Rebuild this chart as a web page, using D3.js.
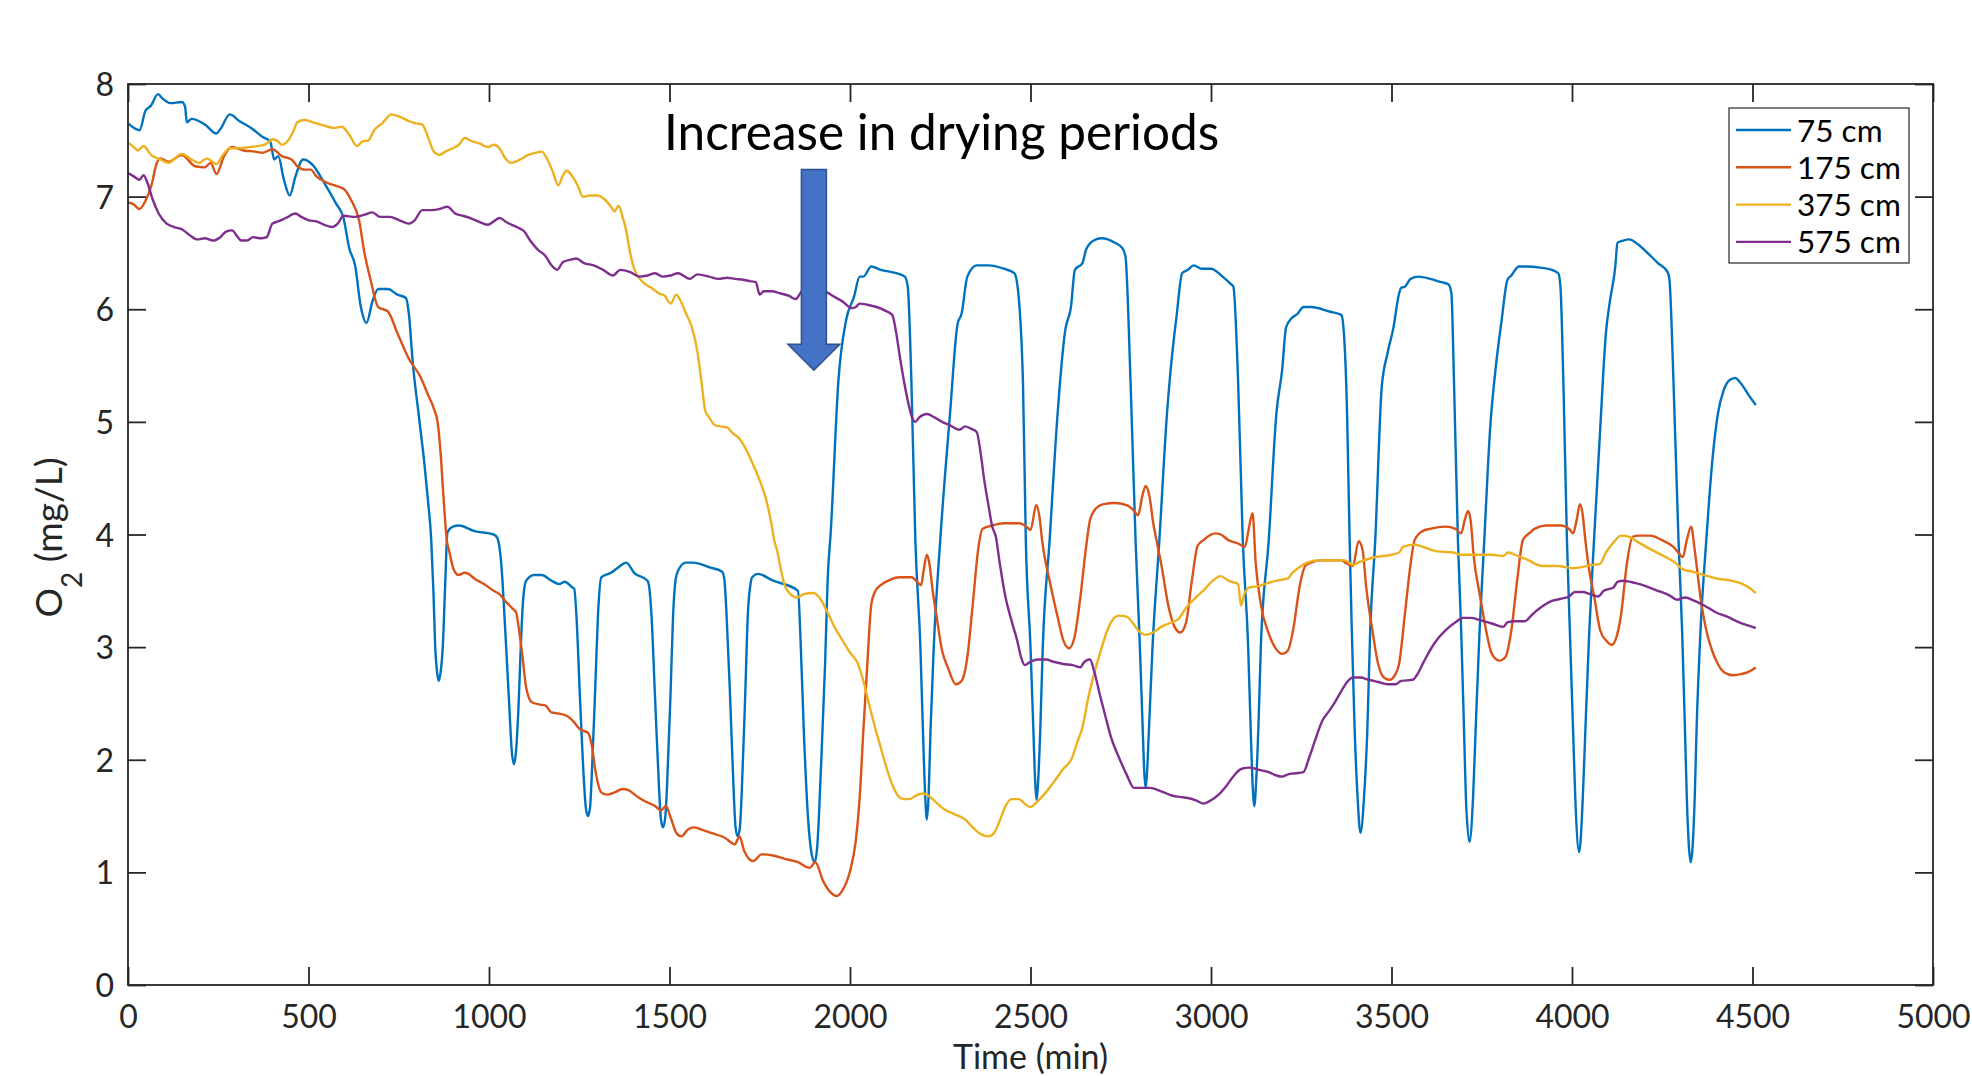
<!DOCTYPE html>
<html><head><meta charset="utf-8">
<script src="https://cdn.jsdelivr.net/npm/d3@7"></script>
<style>
body{margin:0;background:#fff;}
svg{display:block;}
text{font-family:Lato,"Open Sans",sans-serif;}
</style>
</head><body>
<svg id="chart" width="1972" height="1076"></svg>
<script>
// ---------------- data ----------------
const seriesNames = ["75 cm","175 cm","375 cm","575 cm"];
const seriesColors = ["#0072BD","#D95319","#EDB120","#7E2F8E"];
const xTicks = [0,500,1000,1500,2000,2500,3000,3500,4000,4500,5000];
const yTicks = [0,1,2,3,4,5,6,7,8];
const xLabel = "Time (min)";
const annotationText = "Increase in drying periods";
const annotationPos = [1485, 7.41];          // [time, O2] of text start
const arrowPos = {t:1900, top:7.24, shoulder:5.69, tip:5.46};

// [time (min), O2 (mg/L)]
const o2_75 = [[0,7.65],[32,7.59],[48,7.76],[64,7.81],[83,7.91],[96,7.87],[117,7.83],[149,7.84],[158,7.80],[163,7.66],[176,7.69],[213,7.64],[245,7.56],[256,7.60],[282,7.73],[309,7.67],[341,7.61],[373,7.53],[394,7.49],[405,7.33],[416,7.36],[432,7.15],[448,7.01],[464,7.18],[485,7.33],[512,7.28],[544,7.12],[576,6.94],[597,6.81],[613,6.54],[629,6.39],[645,6.02],[661,5.88],[677,6.07],[693,6.18],[720,6.18],[746,6.13],[770,6.10],[778,5.96],[789,5.52],[805,5.07],[821,4.63],[831,4.30],[840,3.95],[846,3.5],[851,3.0],[856,2.78],[861,2.70],[866,2.78],[872,3.0],[878,3.5],[885,4.02],[900,4.07],[917,4.08],[960,4.03],[1013,4.00],[1023,3.97],
[1034,3.74],[1045,3.15],[1056,2.49],[1063,2.08],[1069,1.96],[1075,2.08],[1082,2.49],[1088,3.0],[1095,3.44],[1103,3.59],[1125,3.64],[1146,3.64],[1173,3.59],[1194,3.56],[1210,3.58],[1231,3.53],
[1236,3.52],[1242,3.29],[1252,2.55],[1263,1.81],[1268,1.58],[1274,1.50],[1280,1.58],[1284,1.81],[1295,2.70],[1302,3.29],[1311,3.62],[1338,3.66],[1359,3.71],[1380,3.75],[1402,3.66],[1439,3.59],
[1443,3.55],[1450,3.29],[1460,2.55],[1471,1.75],[1476,1.48],[1482,1.40],[1488,1.48],[1493,1.75],[1503,2.60],[1510,3.29],[1517,3.60],[1524,3.68],[1545,3.75],[1566,3.75],[1609,3.71],[1646,3.67],
[1652,3.60],[1658,3.29],[1668,2.55],[1678,1.70],[1683,1.40],[1689,1.32],[1695,1.40],[1700,1.70],[1710,2.60],[1717,3.29],[1724,3.55],[1729,3.62],[1745,3.65],[1787,3.59],[1856,3.50],
[1862,3.15],[1872,2.26],[1883,1.52],[1894,1.16],[1902,1.09],[1909,1.22],[1920,1.96],[1931,2.85],[1938,3.59],[1947,4.04],[1968,5.37],[1989,5.90],[2011,6.11],[2027,6.29],[2037,6.29],[2059,6.38],[2085,6.35],[2128,6.32],[2152,6.29],[2160,6.20],[2170,5.37],[2181,3.95],
[2195,3.0],[2202,2.26],[2208,1.7],[2213,1.47],[2218,1.7],[2223,2.26],[2232,3.0],[2250,3.95],[2277,5.07],[2298,5.87],[2309,5.96],[2325,6.29],[2351,6.39],[2383,6.39],[2426,6.36],[2455,6.32],[2463,6.23],[2479,5.37],[2487,3.95],
[2500,3.0],[2508,2.26],[2513,1.8],[2517,1.64],[2521,1.8],[2527,2.26],[2534,3.0],[2553,3.95],[2575,5.07],[2596,5.81],[2612,6.02],[2623,6.35],[2644,6.41],[2654,6.53],[2675,6.61],[2697,6.63],[2734,6.59],[2755,6.54],[2763,6.47],[2777,5.37],[2791,3.95],
[2803,3.0],[2811,2.26],[2815,1.9],[2819,1.75],[2823,1.9],[2828,2.26],[2838,3.0],[2857,3.95],[2878,5.07],[2899,5.79],[2904,5.92],[2920,6.32],[2936,6.35],[2952,6.39],[2974,6.36],[3000,6.36],[3032,6.29],[3053,6.23],[3062,6.20],[3075,5.37],[3088,3.95],
[3103,3.0],[3110,2.26],[3115,1.8],[3120,1.59],[3125,1.8],[3131,2.26],[3138,3.0],[3160,3.95],[3181,5.07],[3197,5.46],[3208,5.84],[3223,5.92],[3240,5.96],[3256,6.02],[3277,6.02],[3328,5.98],[3361,5.95],[3366,5.87],[3377,5.07],[3384,3.95],
[3390,3.15],[3398,2.26],[3406,1.67],[3414,1.35],[3424,1.67],[3433,2.26],[3441,3.15],[3455,3.95],[3473,5.31],[3489,5.61],[3505,5.83],[3521,6.14],[3527,6.19],[3537,6.20],[3553,6.27],[3575,6.29],[3607,6.27],[3639,6.24],[3658,6.22],[3666,6.14],[3673,5.37],[3684,3.95],
[3693,3.15],[3701,2.26],[3706,1.67],[3716,1.27],[3726,1.67],[3733,2.26],[3744,3.15],[3757,3.95],[3773,4.93],[3789,5.49],[3805,5.90],[3821,6.26],[3832,6.30],[3853,6.38],[3874,6.38],[3912,6.37],[3944,6.35],[3962,6.32],[3968,6.20],[3976,5.37],[3986,3.95],
[3994,3.15],[4003,2.26],[4009,1.67],[4020,1.18],[4030,1.67],[4037,2.26],[4048,3.15],[4061,3.95],[4078,4.93],[4094,5.79],[4104,6.05],[4120,6.38],[4126,6.59],[4142,6.61],[4158,6.62],[4185,6.57],[4206,6.51],[4238,6.41],[4265,6.33],[4270,6.26],[4281,5.37],[4295,3.95],
[4305,3.15],[4313,2.26],[4318,1.67],[4329,1.09],[4340,1.67],[4345,2.26],[4356,3.15],[4372,3.95],[4388,4.63],[4404,5.07],[4420,5.28],[4436,5.37],[4452,5.39],[4468,5.34],[4489,5.24],[4509,5.15]];

const o2_175 = [[0,6.95],[16,6.93],[32,6.89],[48,6.96],[64,7.09],[80,7.30],[90,7.34],[112,7.31],[149,7.37],[186,7.27],[213,7.26],[229,7.30],[245,7.20],[266,7.36],[288,7.44],[320,7.41],[352,7.40],[373,7.39],[400,7.42],[426,7.36],[453,7.33],[469,7.27],[490,7.24],[506,7.24],[522,7.18],[554,7.12],[581,7.09],[597,7.07],[618,6.97],[640,6.79],[655,6.50],[672,6.26],[693,6.02],[720,5.98],[746,5.79],[778,5.56],[810,5.40],[831,5.24],[847,5.12],[858,4.99],[866,4.72],[874,4.33],[883,3.95],[890,3.85],[901,3.70],[915,3.64],[933,3.66],[943,3.65],[959,3.61],[986,3.56],[1013,3.50],[1029,3.47],[1045,3.41],[1066,3.34],[1075,3.31],[1082,3.18],[1093,2.91],[1103,2.64],[1119,2.51],[1141,2.49],[1157,2.48],[1173,2.42],[1194,2.41],[1215,2.39],[1231,2.35],[1252,2.27],[1274,2.24],[1284,2.14],[1295,1.90],[1311,1.71],[1327,1.69],[1348,1.71],[1370,1.74],[1386,1.73],[1412,1.67],[1439,1.62],[1460,1.59],[1476,1.55],[1490,1.59],[1503,1.49],[1519,1.35],[1533,1.32],[1551,1.38],[1567,1.40],[1588,1.38],[1615,1.35],[1652,1.31],[1681,1.25],[1694,1.32],[1707,1.19],[1732,1.10],[1755,1.16],[1787,1.15],[1819,1.12],[1856,1.09],[1888,1.04],[1904,1.09],[1926,0.92],[1947,0.82],[1963,0.79],[1979,0.84],[2000,1.01],[2016,1.28],[2027,1.67],[2037,2.26],[2048,2.85],[2059,3.38],[2069,3.49],[2085,3.55],[2106,3.59],[2138,3.62],[2170,3.62],[2192,3.56],[2197,3.55],[2204,3.68],[2213,3.82],[2220,3.74],[2229,3.50],[2239,3.29],[2255,2.97],[2271,2.82],[2293,2.67],[2309,2.70],[2325,2.91],[2340,3.38],[2356,3.89],[2367,4.05],[2394,4.08],[2426,4.10],[2468,4.10],[2489,4.07],[2500,4.04],[2516,4.26],[2526,4.13],[2532,3.95],[2553,3.59],[2575,3.27],[2591,3.06],[2607,2.99],[2622,3.09],[2638,3.44],[2654,3.89],[2665,4.13],[2681,4.23],[2702,4.27],[2734,4.28],[2766,4.26],[2787,4.21],[2798,4.17],[2809,4.33],[2819,4.43],[2830,4.33],[2840,4.10],[2849,3.95],[2862,3.74],[2883,3.35],[2899,3.18],[2915,3.13],[2931,3.22],[2947,3.59],[2963,3.90],[2979,3.95],[3011,4.01],[3027,4.00],[3048,3.95],[3075,3.92],[3094,3.89],[3104,4.04],[3115,4.19],[3124,3.74],[3138,3.38],[3160,3.12],[3181,2.98],[3197,2.94],[3213,2.97],[3229,3.18],[3245,3.53],[3261,3.72],[3277,3.75],[3303,3.77],[3329,3.77],[3361,3.77],[3377,3.74],[3393,3.72],[3409,3.94],[3420,3.86],[3430,3.53],[3447,3.15],[3463,2.85],[3479,2.73],[3495,2.71],[3511,2.76],[3521,2.85],[3537,3.29],[3553,3.74],[3564,3.95],[3586,4.03],[3607,4.05],[3650,4.07],[3677,4.05],[3693,4.01],[3703,4.13],[3712,4.21],[3719,4.13],[3728,3.80],[3746,3.44],[3762,3.15],[3778,2.94],[3799,2.88],[3815,2.91],[3832,3.15],[3848,3.59],[3864,3.95],[3885,4.02],[3896,4.05],[3928,4.08],[3971,4.08],[3992,4.05],[4003,4.01],[4013,4.13],[4022,4.27],[4029,4.19],[4037,3.95],[4045,3.74],[4062,3.44],[4078,3.15],[4094,3.06],[4110,3.02],[4120,3.06],[4136,3.29],[4152,3.74],[4168,3.98],[4184,3.99],[4217,3.99],[4249,3.95],[4281,3.89],[4297,3.83],[4307,3.80],[4318,3.95],[4330,4.07],[4340,3.86],[4356,3.44],[4372,3.15],[4388,2.97],[4404,2.85],[4420,2.78],[4447,2.75],[4468,2.76],[4489,2.78],[4509,2.82]];

const o2_375 = [[0,7.48],[16,7.44],[27,7.41],[43,7.45],[64,7.37],[90,7.33],[112,7.30],[149,7.38],[176,7.33],[197,7.30],[218,7.34],[245,7.29],[261,7.36],[282,7.43],[309,7.43],[336,7.44],[362,7.45],[384,7.47],[400,7.51],[416,7.49],[426,7.46],[448,7.52],[458,7.58],[469,7.66],[490,7.68],[512,7.66],[544,7.63],[570,7.61],[592,7.62],[613,7.55],[634,7.45],[650,7.49],[666,7.50],[682,7.59],[704,7.65],[730,7.73],[752,7.71],[778,7.67],[799,7.65],[815,7.64],[831,7.53],[847,7.40],[863,7.37],[879,7.40],[900,7.43],[916,7.46],[933,7.52],[954,7.49],[975,7.47],[997,7.44],[1013,7.46],[1029,7.43],[1045,7.34],[1061,7.30],[1087,7.33],[1109,7.37],[1130,7.39],[1146,7.40],[1162,7.33],[1178,7.21],[1192,7.10],[1205,7.19],[1215,7.23],[1231,7.18],[1247,7.09],[1260,7.00],[1279,7.01],[1301,7.01],[1322,6.97],[1338,6.91],[1348,6.87],[1359,6.92],[1370,6.82],[1380,6.70],[1391,6.50],[1402,6.36],[1418,6.27],[1434,6.22],[1450,6.19],[1471,6.14],[1487,6.12],[1503,6.05],[1519,6.13],[1530,6.08],[1546,5.96],[1562,5.84],[1578,5.61],[1588,5.37],[1599,5.10],[1610,5.04],[1626,4.97],[1642,4.96],[1660,4.95],[1675,4.90],[1691,4.86],[1713,4.75],[1729,4.64],[1750,4.48],[1766,4.33],[1782,4.10],[1790,3.95],[1798,3.86],[1809,3.68],[1819,3.55],[1835,3.47],[1854,3.44],[1872,3.47],[1899,3.48],[1915,3.44],[1936,3.32],[1957,3.18],[1979,3.06],[2000,2.95],[2021,2.86],[2037,2.70],[2053,2.49],[2069,2.29],[2085,2.11],[2101,1.93],[2117,1.78],[2133,1.68],[2149,1.65],[2165,1.65],[2181,1.68],[2202,1.70],[2218,1.68],[2239,1.62],[2261,1.56],[2287,1.52],[2319,1.47],[2340,1.40],[2362,1.34],[2383,1.32],[2399,1.35],[2415,1.46],[2431,1.59],[2447,1.65],[2468,1.65],[2484,1.61],[2500,1.58],[2516,1.62],[2537,1.69],[2564,1.80],[2591,1.92],[2614,2.01],[2628,2.14],[2644,2.29],[2660,2.55],[2676,2.76],[2692,2.94],[2713,3.15],[2729,3.25],[2745,3.28],[2766,3.27],[2782,3.22],[2798,3.15],[2819,3.11],[2840,3.13],[2862,3.18],[2883,3.21],[2910,3.25],[2931,3.35],[2958,3.44],[2984,3.52],[3005,3.59],[3027,3.63],[3048,3.59],[3075,3.56],[3083,3.37],[3091,3.46],[3107,3.53],[3128,3.54],[3149,3.56],[3181,3.59],[3213,3.61],[3223,3.65],[3245,3.71],[3266,3.75],[3298,3.77],[3329,3.77],[3372,3.77],[3393,3.73],[3414,3.76],[3457,3.80],[3500,3.82],[3521,3.84],[3532,3.89],[3564,3.91],[3596,3.88],[3628,3.85],[3671,3.84],[3693,3.82],[3735,3.82],[3778,3.82],[3810,3.81],[3823,3.84],[3842,3.82],[3874,3.78],[3917,3.72],[3960,3.72],[4003,3.70],[4024,3.71],[4056,3.73],[4078,3.74],[4094,3.84],[4115,3.93],[4136,3.99],[4158,3.98],[4184,3.93],[4217,3.87],[4259,3.80],[4286,3.75],[4307,3.69],[4334,3.67],[4366,3.64],[4398,3.61],[4441,3.59],[4473,3.56],[4494,3.52],[4509,3.48]];

const o2_575 = [[0,7.21],[16,7.18],[32,7.15],[43,7.19],[53,7.13],[69,6.97],[85,6.85],[107,6.76],[128,6.73],[149,6.71],[170,6.66],[192,6.62],[213,6.63],[235,6.61],[256,6.64],[272,6.69],[288,6.70],[304,6.64],[314,6.61],[330,6.61],[346,6.64],[368,6.63],[384,6.64],[400,6.76],[416,6.78],[437,6.81],[464,6.85],[480,6.82],[501,6.79],[522,6.78],[544,6.75],[565,6.73],[581,6.76],[597,6.83],[629,6.82],[656,6.84],[677,6.86],[698,6.82],[725,6.82],[752,6.79],[778,6.76],[794,6.79],[815,6.88],[842,6.88],[863,6.89],[885,6.91],[906,6.85],[927,6.83],[948,6.81],[970,6.78],[997,6.75],[1013,6.78],[1029,6.81],[1050,6.77],[1077,6.73],[1098,6.69],[1114,6.61],[1135,6.53],[1157,6.47],[1173,6.39],[1189,6.35],[1205,6.42],[1226,6.44],[1242,6.45],[1263,6.41],[1290,6.39],[1316,6.35],[1343,6.30],[1364,6.35],[1391,6.33],[1418,6.29],[1439,6.30],[1460,6.32],[1482,6.29],[1503,6.30],[1524,6.32],[1556,6.27],[1577,6.31],[1610,6.29],[1636,6.27],[1660,6.28],[1681,6.27],[1707,6.26],[1723,6.25],[1739,6.24],[1750,6.13],[1761,6.16],[1782,6.16],[1808,6.14],[1830,6.12],[1849,6.09],[1862,6.14],[1878,6.20],[1900,6.18],[1936,6.15],[1957,6.11],[1979,6.07],[2005,6.01],[2016,6.02],[2027,6.05],[2048,6.04],[2074,6.02],[2096,5.99],[2117,5.95],[2128,5.79],[2138,5.58],[2149,5.37],[2160,5.19],[2172,5.04],[2181,5.00],[2192,5.04],[2213,5.07],[2234,5.04],[2255,5.00],[2277,4.97],[2303,4.93],[2319,4.96],[2335,4.94],[2351,4.91],[2362,4.72],[2372,4.48],[2383,4.27],[2394,4.07],[2404,3.98],[2415,3.74],[2431,3.44],[2447,3.24],[2463,3.06],[2474,2.91],[2484,2.84],[2500,2.87],[2521,2.89],[2543,2.89],[2564,2.87],[2591,2.85],[2617,2.84],[2638,2.82],[2647,2.86],[2654,2.88],[2665,2.89],[2676,2.79],[2692,2.58],[2708,2.38],[2723,2.20],[2745,2.02],[2766,1.87],[2787,1.75],[2809,1.75],[2830,1.75],[2862,1.72],[2894,1.68],[2915,1.67],[2936,1.66],[2958,1.64],[2979,1.61],[3000,1.64],[3021,1.69],[3043,1.77],[3064,1.86],[3085,1.92],[3107,1.93],[3133,1.91],[3160,1.89],[3181,1.86],[3197,1.85],[3213,1.87],[3234,1.88],[3256,1.89],[3272,2.02],[3288,2.17],[3309,2.35],[3329,2.44],[3345,2.52],[3361,2.61],[3377,2.69],[3393,2.73],[3414,2.73],[3436,2.71],[3463,2.69],[3489,2.67],[3511,2.67],[3527,2.70],[3559,2.71],[3570,2.75],[3591,2.88],[3618,3.03],[3650,3.15],[3677,3.22],[3698,3.26],[3719,3.26],[3746,3.24],[3778,3.21],[3810,3.18],[3821,3.22],[3842,3.23],[3869,3.23],[3890,3.29],[3917,3.36],[3944,3.41],[3971,3.43],[3992,3.45],[4008,3.49],[4029,3.49],[4051,3.47],[4072,3.45],[4088,3.50],[4115,3.53],[4126,3.58],[4142,3.59],[4174,3.57],[4206,3.54],[4238,3.50],[4270,3.46],[4291,3.42],[4313,3.44],[4340,3.41],[4366,3.37],[4398,3.31],[4430,3.27],[4463,3.22],[4489,3.19],[4509,3.17]];

const seriesData = [o2_75, o2_175, o2_375, o2_575];

// ---------------- chart ----------------
const W = 1972, H = 1076;
const plot = {left:128, right:1933, top:84, bottom:985};
const axisColor = "#262626";
const svg = d3.select("#chart");

const x = d3.scaleLinear().domain([0,5000]).range([plot.left, plot.right]);
const y = d3.scaleLinear().domain([0,8]).range([plot.bottom, plot.top]);

svg.append("rect").attr("width",W).attr("height",H).attr("fill","#fff");

function styleAxis(g){
  g.attr("font-family", null).attr("font-size", null);
  g.select(".domain").remove();
  g.selectAll(".tick line").attr("stroke", axisColor).attr("stroke-width", 1.8);
  g.selectAll(".tick text").attr("fill", axisColor).style("font-size","32px");
}

// bottom axis with labels
svg.append("g").attr("transform",`translate(0,${plot.bottom})`)
  .call(d3.axisBottom(x).tickValues(xTicks).tickSizeInner(-18).tickSizeOuter(0).tickFormat(d3.format("d")))
  .call(styleAxis)
  .call(g => g.selectAll(".tick text").attr("y", 43).attr("dy", null));
// top axis ticks
svg.append("g").attr("transform",`translate(0,${plot.top})`)
  .call(d3.axisTop(x).tickValues(xTicks).tickSizeInner(-18).tickSizeOuter(0).tickFormat(""))
  .call(styleAxis);
// left axis with labels
svg.append("g").attr("transform",`translate(${plot.left},0)`)
  .call(d3.axisLeft(y).tickValues(yTicks).tickSizeInner(-18).tickSizeOuter(0).tickPadding(14).tickFormat(d3.format("d")))
  .call(styleAxis)
  .call(g => g.selectAll(".tick text").attr("x", -14).attr("dy","0.36em"));
// right axis ticks
svg.append("g").attr("transform",`translate(${plot.right},0)`)
  .call(d3.axisRight(y).tickValues(yTicks).tickSizeInner(-18).tickSizeOuter(0).tickFormat(""))
  .call(styleAxis);

// lines
const line = d3.line().x(d => x(d[0])).y(d => y(d[1])).curve(d3.curveMonotoneX);
seriesData.forEach((s,i) => {
  svg.append("path").datum(s)
    .attr("fill","none").attr("stroke",seriesColors[i])
    .attr("stroke-width",2.4).attr("stroke-linejoin","round")
    .attr("d", line);
});

// box
svg.append("rect").attr("x",plot.left).attr("y",plot.top)
  .attr("width",plot.right-plot.left).attr("height",plot.bottom-plot.top)
  .attr("fill","none").attr("stroke",axisColor).attr("stroke-width",1.8);

// axis labels
svg.append("text").attr("x",(plot.left+plot.right)/2).attr("y",1069)
  .attr("text-anchor","middle").style("font-size","34px").attr("fill",axisColor)
  .text(xLabel);
const yl = svg.append("text")
  .attr("transform",`translate(62,${(plot.top+plot.bottom)/2 + 3}) rotate(-90)`)
  .attr("text-anchor","middle").style("font-size","37px").attr("fill",axisColor);
yl.append("tspan").text("O");
yl.append("tspan").attr("dy",20).style("font-size","28px").text("2");
yl.append("tspan").attr("dy",-20).text(" (mg/L)");

// annotation
svg.append("text").attr("x",x(annotationPos[0])).attr("y",y(annotationPos[1]))
  .style("font-size","49.5px").attr("fill","#000").text(annotationText);

const ax = x(arrowPos.t), shaftHW = 12.5, headHW = 26;
const arrowPts = [
  [ax-shaftHW, y(arrowPos.top)], [ax+shaftHW, y(arrowPos.top)],
  [ax+shaftHW, y(arrowPos.shoulder)], [ax+headHW, y(arrowPos.shoulder)],
  [ax, y(arrowPos.tip)],
  [ax-headHW, y(arrowPos.shoulder)], [ax-shaftHW, y(arrowPos.shoulder)]
];
svg.append("polygon").attr("points", arrowPts.map(p=>p.join(",")).join(" "))
  .attr("fill","#4472C4").attr("stroke","#2F528F").attr("stroke-width",1.5);

// legend
const lg = svg.append("g");
lg.append("rect").attr("x",1729).attr("y",108).attr("width",180).attr("height",155)
  .attr("fill","#fff").attr("stroke",axisColor).attr("stroke-width",1.2);
seriesNames.forEach((n,i) => {
  const ly = 130 + i*37.3;
  lg.append("line").attr("x1",1736).attr("x2",1791).attr("y1",ly).attr("y2",ly)
    .attr("stroke",seriesColors[i]).attr("stroke-width",2.4);
  lg.append("text").attr("x",1797).attr("y",ly+11.5).style("font-size","31.5px")
    .attr("fill","#000").text(n);
});
</script>
</body></html>
